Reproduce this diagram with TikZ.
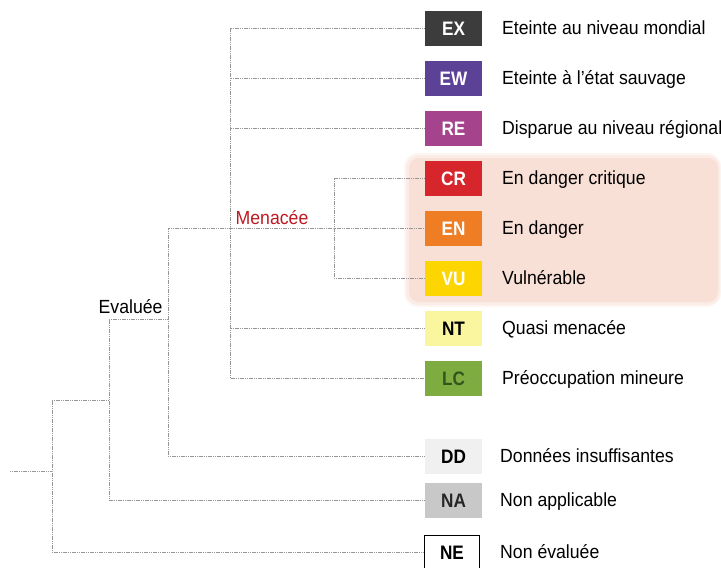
\documentclass[tikz,border=0pt]{standalone}
\usepackage{fontspec}
\setmainfont{Liberation Sans}[FakeStretch=0.93]
\newfontfamily\boxfont{Liberation Sans}[FakeStretch=0.88]
\usetikzlibrary{calc}
\definecolor{cEX}{RGB}{60,60,60}
\definecolor{cEW}{RGB}{92,66,150}
\definecolor{cRE}{RGB}{165,68,140}
\definecolor{cCR}{RGB}{214,38,44}
\definecolor{cEN}{RGB}{238,125,36}
\definecolor{cVU}{RGB}{253,213,0}
\definecolor{cNT}{RGB}{250,246,160}
\definecolor{cLC}{RGB}{126,172,64}
\definecolor{tLC}{RGB}{52,84,30}
\definecolor{cDD}{RGB}{240,240,240}
\definecolor{cNA}{RGB}{200,200,200}
\definecolor{hl}{RGB}{248,224,214}
\definecolor{menred}{RGB}{190,24,34}
\definecolor{treegray}{RGB}{150,150,150}
\begin{document}
\begin{tikzpicture}[x=1pt,y=-1pt,
  cat/.style={minimum width=57pt,minimum height=35pt,inner sep=0pt,
    font=\boxfont\bfseries\fontsize{19.5}{22}\selectfont,text height=14pt,text depth=0pt},
  lab/.style={anchor=west,inner sep=0pt,font=\fontsize{19}{22}\selectfont,
    text height=13.6pt,text depth=0pt},
  tree/.style={draw=treegray,line width=0.7pt,dash pattern=on 1.2pt off 0.6pt}]
\useasboundingbox (0,0) rectangle (721,568);
% highlight (soft edge)
\fill[hl!30,rounded corners=14pt] (404,153) rectangle (721,307);
\fill[hl!60,rounded corners=12pt] (406,155) rectangle (720,305);
\fill[hl,rounded corners=10pt] (409,158) rectangle (718,302);
% boxes
\node[cat,fill=cEX,text=white] (ex) at (453.5,28) {EX};
\node[cat,fill=cEW,text=white] (ew) at (453.5,78) {EW};
\node[cat,fill=cRE,text=white] (re) at (453.5,128) {RE};
\node[cat,fill=cCR,text=white] (cr) at (453.5,178) {CR};
\node[cat,fill=cEN,text=white] (en) at (453.5,228) {EN};
\node[cat,fill=cVU,text=white] (vu) at (453.5,278) {VU};
\node[cat,fill=cNT,text=black] (nt) at (453.5,328) {NT};
\node[cat,fill=cLC,text=tLC] (lc) at (453.5,378) {LC};
\node[cat,fill=cDD,text=black] (dd) at (453.5,456) {DD};
\node[cat,fill=cNA,text=black!85] (na) at (453.5,500) {NA};
\node[cat,fill=white,draw=black,line width=1.6pt,text=black,minimum width=55pt,minimum height=33pt] (ne) at (452,552) {NE};
% labels
\node[lab] (tex) at (502,28) {Eteinte au niveau mondial};
\node[lab] (tew) at (502,78) {Eteinte à l’état sauvage};
\node[lab] (tre) at (502,128) {Disparue au niveau régional};
\node[lab] (tcr) at (502,178) {En danger critique};
\node[lab] (ten) at (502,228) {En danger};
\node[lab] (tvu) at (502,278) {Vulnérable};
\node[lab] (tnt) at (502,328) {Quasi menacée};
\node[lab] (tlc) at (502,378) {Préoccupation mineure};
\node[lab] (tdd) at (500,456) {Données insuffisantes};
\node[lab] (tna) at (500,500) {Non applicable};
\node[lab] (tne) at (500,552) {Non évaluée};
% tree coordinates
\coordinate (root) at (10,471);
\coordinate (j0) at (52,471);
\coordinate (e1) at (109,400);
\coordinate (ev) at (168,319);
\coordinate (mv) at (230,228);
\coordinate (tv) at (334,228);
% tree
\draw[tree] (root) -- (j0);
\draw[tree] (ne.west) -| (j0) |- (e1);
\draw[tree] (na.west) -| (e1) |- (ev);
\draw[tree] (dd.west) -| (ev) |- (tv) -- (en.west);
\draw[tree] (ex.west) -| (mv) |- (lc.west);
\draw[tree] (ew.west) -- (ew.west -| mv);
\draw[tree] (re.west) -- (re.west -| mv);
\draw[tree] (nt.west) -- (nt.west -| mv);
\draw[tree] (cr.west) -| (tv) |- (vu.west);
% group labels
\node[anchor=base west,inner sep=0pt,font=\fontsize{19}{22}\selectfont] (evl) at (98.5,313) {Evaluée};
\node[anchor=base west,inner sep=0pt,font=\fontsize{19}{22}\selectfont,text=menred] (mel) at (235.5,224.5) {Menacée};
\end{tikzpicture}
\end{document}
